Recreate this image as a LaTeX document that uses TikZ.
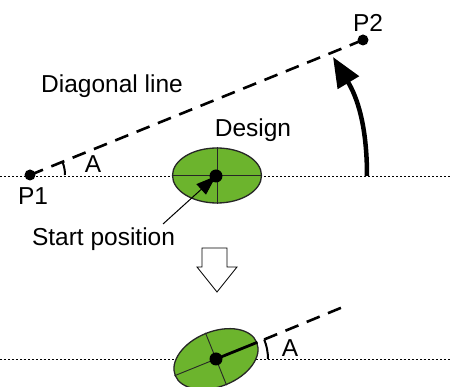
\documentclass[tikz,border=0pt]{standalone}
\usepackage{fontspec}
\setmainfont{Liberation Sans}
\usetikzlibrary{arrows.meta,shapes.geometric}
\definecolor{dgreen}{RGB}{108,180,45}
\begin{document}
\begin{tikzpicture}[x=1pt,y=-1pt,
  lbl/.style={font=\fontsize{24.5}{28}\selectfont, inner sep=0pt, anchor=base},
  dotline/.style={line width=0.9pt, dash pattern=on 2pt off 2pt},
  diag/.style={line width=2.6pt, dash pattern=on 14pt off 9pt},
  dotpt/.style={circle, fill=black, inner sep=0pt, minimum size=#1},
  dotpt/.default=11pt,
  des/.style={ellipse, fill=dgreen, draw=black!85, line width=1.3pt, inner sep=0pt,
              minimum width=89pt, minimum height=55pt},
  cross/.style={line width=0.9pt, black!85},
  anglearc/.style={line width=2pt},
]
\useasboundingbox (0,0) rectangle (451,387);

% ---------- top part ----------
\coordinate (l1a) at (0,176);
\coordinate (l1b) at (451,176);
\draw[dotline] (l1a) -- (l1b);

\node[des] (d1) at (217,175.5) {};
\draw[cross] (d1.west) -- (d1.east);
\draw[cross] (d1.north) -- (d1.south);
\node[dotpt=13pt] (c1) at (216,176) {};

\node[dotpt] (p1) at (30,175) {};
\node[dotpt] (p2) at (363,40) {};
\draw[diag] (p1.center) -- (p2.center);
\draw[anglearc] (65,175) arc[start angle=0, end angle=-22, radius=35];

\node[lbl] (tp1) at (33,205) {P1};
\node[lbl] (tp2) at (368,32) {P2};
\node[lbl] (ta1) at (93,173) {A};
\node[lbl] (tdiag) at (112,93) {Diagonal line};
\node[lbl] (tdes) at (253,137) {Design};
\node[lbl] (tstart) at (103.5,246) {Start position};

\coordinate (sptail) at (163,224);
\draw[line width=1pt, -{Triangle[length=20pt,width=14pt]}] (sptail) -- (c1.center);

\coordinate (rs) at (367,176);
\coordinate (rt) at (333,57);
\draw[line width=4.5pt, -{Triangle[length=30pt,width=24pt]}]
  (rs) .. controls (367,125) and (357,97) .. (rt);

% ---------- hollow down arrow ----------
\draw[line width=0.8pt, fill=white]
  (202,248) -- (227,248) -- (227,267) -- (237,267) -- (217,292)
  -- (197,267) -- (202,267) -- cycle;

% ---------- bottom part ----------
\coordinate (l2a) at (0,359);
\coordinate (l2b) at (451,359);
\draw[dotline] (l2a) -- (l2b);

\node[des, rotate=22, minimum width=88pt] (d2) at (216,359) {};
\draw[cross] (d2.west) -- (d2.east);
\draw[cross] (d2.north) -- (d2.south);
\node[dotpt=13pt] (c2) at (216,359) {};
\draw[line width=2.8pt] (c2.center) -- (d2.east);

\coordinate (ds) at (264.2,339.5);
\coordinate (de) at (343,307);
\draw[diag] (ds) -- (de);
\draw[anglearc] (268,359) arc[start angle=0, end angle=-22, radius=52];
\node[lbl] (ta2) at (290,357) {A};
\end{tikzpicture}
\end{document}
